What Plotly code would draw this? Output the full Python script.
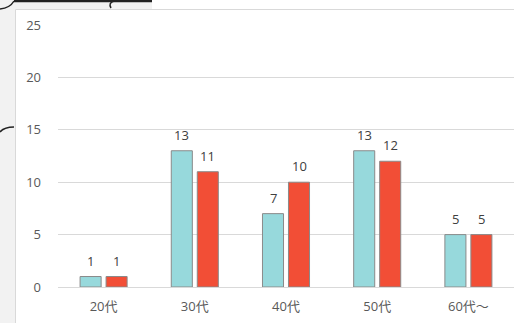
import plotly.graph_objects as go

categories = ["20代", "30代", "40代", "50代", "60代〜"]
series_a = [1, 13, 7, 13, 5]
series_b = [1, 11, 10, 12, 5]
y_ticks = [0, 5, 10, 15, 20, 25]

W, H = 514, 323
L, R, T, B = 58, 0, 25, 36
pw, ph = W - L - R, H - T - B

def px(x):
    return (x - L) / pw

def py(y):
    return (H - B - y) / ph

font = "Open Sans, Noto Sans CJK JP, sans-serif"

fig = go.Figure()
fig.add_trace(go.Bar(x=categories, y=series_a, name="A",
                     marker=dict(color="#97d9dc", line=dict(color="#8a8a8a", width=1))))
fig.add_trace(go.Bar(x=categories, y=series_b, name="B",
                     marker=dict(color="#f24e36", line=dict(color="#8a8a8a", width=1))))

annotations = []
for cat, va, vb in zip(categories, series_a, series_b):
    for v, sh in ((va, -13), (vb, 13)):
        annotations.append(dict(x=cat, y=v, xref="x", yref="y", text=str(v),
                                showarrow=False, xshift=sh, yshift=5, yanchor="bottom",
                                font=dict(color="#404040", size=13, family=font)))

shapes = [
    dict(type="rect", xref="paper", yref="paper", x0=px(0), x1=px(15), y0=py(323), y1=py(0),
         fillcolor="#f2f2f2", line=dict(width=0), layer="below"),
    dict(type="rect", xref="paper", yref="paper", x0=px(0), x1=px(152), y0=py(9), y1=py(0),
         fillcolor="#f2f2f2", line=dict(width=0), layer="below"),
    dict(type="line", xref="paper", yref="paper", x0=px(15.5), x1=px(514), y0=py(9.5), y1=py(9.5),
         line=dict(color="#d9d9d9", width=1)),
    dict(type="line", xref="paper", yref="paper", x0=px(15.5), x1=px(15.5), y0=py(9.5), y1=py(323),
         line=dict(color="#d9d9d9", width=1)),
    dict(type="line", xref="paper", yref="paper", x0=px(14), x1=px(152), y0=py(1), y1=py(1),
         line=dict(color="#222222", width=2.5)),
    dict(type="path", xref="paper", yref="paper",
         path=f"M {px(0)} {py(9)} Q {px(10)} {py(8)} {px(14)} {py(1)}",
         line=dict(color="#222222", width=1.5)),
    dict(type="path", xref="paper", yref="paper",
         path=f"M {px(114)} {py(1)} Q {px(108)} {py(3)} {px(111)} {py(8)}",
         line=dict(color="#222222", width=1.5)),
    dict(type="path", xref="paper", yref="paper",
         path=f"M {px(0)} {py(132)} Q {px(4)} {py(127)} {px(14)} {py(127)}",
         line=dict(color="#222222", width=1.5)),
]

fig.update_layout(
    width=W, height=H,
    margin=dict(l=L, r=R, t=T, b=B, pad=0),
    paper_bgcolor="white", plot_bgcolor="white",
    barmode="group", bargap=0.43, bargroupgap=0.19,
    showlegend=False,
    font=dict(family=font, color="#595959", size=13),
    shapes=shapes,
    annotations=annotations,
    xaxis=dict(showgrid=False, showline=True, linecolor="#d9d9d9", linewidth=1,
               ticks="", tickfont=dict(size=13, color="#595959"), ticklabelstandoff=7),
    yaxis=dict(range=[0, 25], tickvals=y_ticks, showgrid=True, gridcolor="#d9d9d9",
               gridwidth=1, zeroline=False, showline=False, ticks="",
               tickfont=dict(size=13, color="#595959"), ticklabelstandoff=16),
)

fig.write_html("out.html")
